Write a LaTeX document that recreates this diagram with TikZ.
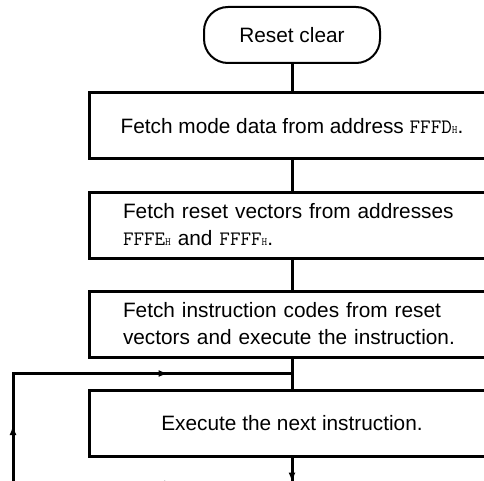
\documentclass[tikz,border=0pt]{standalone}
\usepackage{fontspec}
\setmainfont{Liberation Sans}
\usetikzlibrary{arrows.meta,positioning,calc,decorations.markings}
\newcommand{\hexval}[1]{{\ttfamily\fontsize{20.5}{27}\selectfont #1}{\ttfamily\fontsize{11}{11}\selectfont H}}

\begin{document}
\begin{tikzpicture}[
    x=1pt, y=-1pt,
    font=\fontsize{20.8}{27}\selectfont,
    >={Latex[length=10pt,width=7pt]},
    term/.style={draw, line width=2pt, rounded corners=24pt, minimum width=176pt, minimum height=56pt},
    box/.style={draw, line width=3pt, minimum width=406pt, minimum height=66pt, align=center},
    boxl/.style={box, text width=338pt, inner xsep=34pt, align=left},
    flow/.style={line width=3pt},
    midarr/.style={postaction={decorate}, decoration={markings, mark=at position #1 with {\arrow{>}}}}
]
\useasboundingbox (0,0) rectangle (484,481);
\clip (0,0) rectangle (484,481);

\node[term] (reset) at (292,35) {Reset clear};
\node[box] (mode) at (292,126) {Fetch mode data from address \hexval{FFFD}.};
\node[boxl, below=30pt of mode] (vect) {Fetch reset vectors from addresses\\\hexval{FFFE} and \hexval{FFFF}.};
\node[boxl, below=30pt of vect] (fetch) {Fetch instruction codes from reset\\vectors and execute the instruction.};
\node[box, below=30pt of fetch] (exec) {Execute the next instruction.};

% loop back points
\coordinate (join) at ($(fetch.south)!0.5!(exec.north)$);
\coordinate (retL) at (13,484);
\coordinate (retR) at (300,484);
\coordinate (loopL) at (join -| retL);
\coordinate (exitB) at (292,500);

\draw[flow] (reset) -- (mode);
\draw[flow] (mode) -- (vect);
\draw[flow] (vect) -- (fetch);
\draw[flow] (fetch) -- (exec);
\draw[flow, midarr=25pt] (exec) -- (exitB);
\draw[flow, postaction={decorate}, decoration={markings,
      mark=at position 145pt with {\arrow{>}},
      mark=at position 346pt with {\arrow{>}},
      mark=at position 553pt with {\arrow{>}}}]
    (retR) -- (retL) -- (loopL) -- (join);
\end{tikzpicture}
\end{document}
